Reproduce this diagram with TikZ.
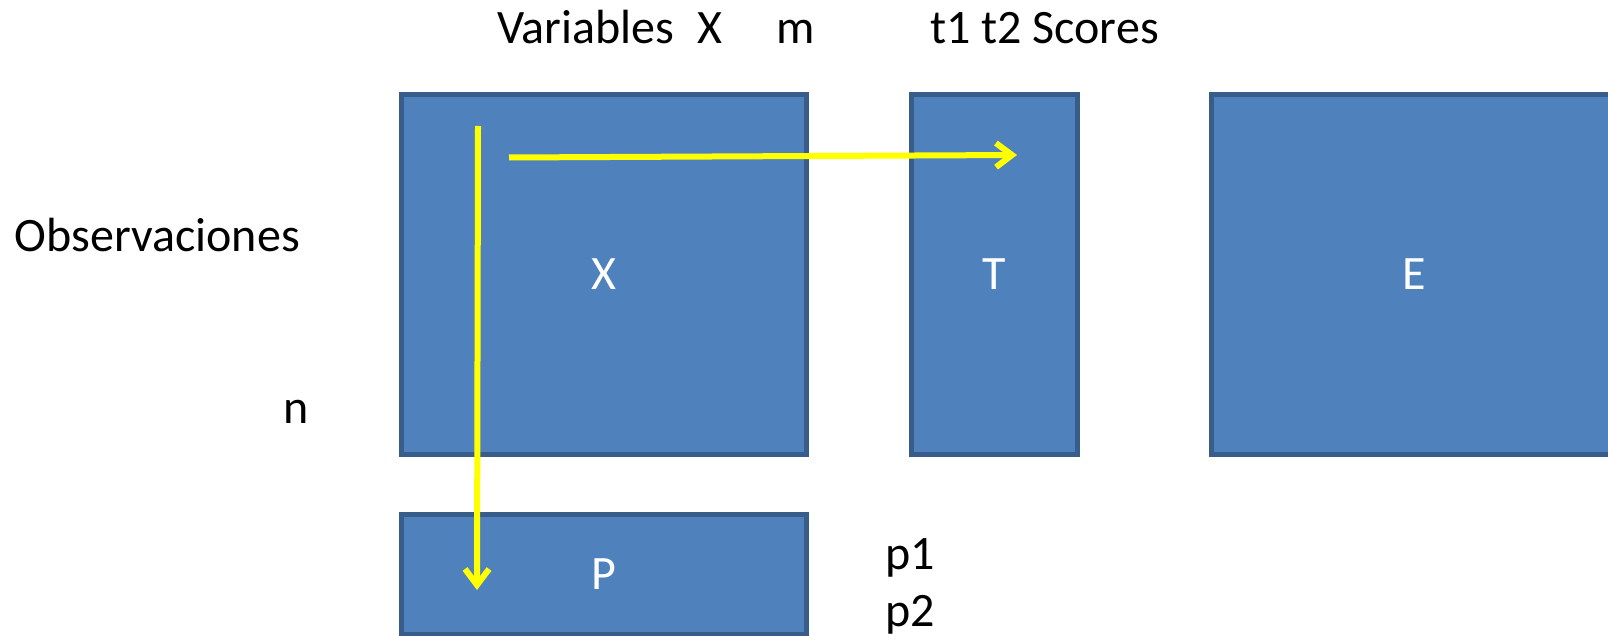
\documentclass[tikz,border=0pt]{standalone}
\usepackage{fontspec}
\setmainfont{Carlito}
\usetikzlibrary{arrows.meta}
\definecolor{boxfill}{HTML}{4F81BD}
\definecolor{boxline}{HTML}{385D8A}
\definecolor{flowyellow}{HTML}{FFFF00}
\begin{document}
\begin{tikzpicture}[x=1pt,y=-1pt,
  mat/.style={draw=boxline, fill=boxfill, line width=5pt, inner sep=0pt,
    text=white, font=\fontsize{48}{57}\selectfont},
  lbl/.style={anchor=base west, inner sep=0pt, font=\fontsize{48}{57}\selectfont},
  flow/.style={draw=flowyellow, line width=6pt, -{Straight Barb[length=16pt,width=24pt]}}]
\useasboundingbox (0,0) rectangle (1608,636);
\clip (0,0) rectangle (1608,636);
% matrices
\node[mat, minimum width=405.2pt, minimum height=360pt] (X) at (604.1,274.2) {X};
\node[mat, minimum width=165.5pt, minimum height=360pt] (T) at (994.25,274.2) {T};
\node[mat, minimum width=405.2pt, minimum height=360pt] (E) at (1414.5,274.2) {E};
\node[mat, minimum width=405.2pt, minimum height=119.5pt] (P) at (604.1,574.25) {P};
% labels
\node[lbl] (var) at (497,43.3) {Variables};
\node[lbl] (varX) at (697,43.3) {X};
\node[lbl] (varm) at (776,43.3) {m};
\node[lbl] (scores) at (930,44) {t1 t2 Scores};
\node[lbl] (obs) at (14.5,251.7) {Observaciones};
\node[lbl] (n) at (283,423) {n};
\node[lbl] (p1) at (885,569) {p1};
\node[lbl] (p2) at (885,626) {p2};
% flows
\coordinate (vstart) at (478,126);
\coordinate (vend) at (477,590);
\coordinate (hstart) at (509,157.5);
\coordinate (hend) at (1017,155);
\draw[flow] (vstart) -- (vend);
\draw[flow] (hstart) -- (hend);
\end{tikzpicture}
\end{document}
